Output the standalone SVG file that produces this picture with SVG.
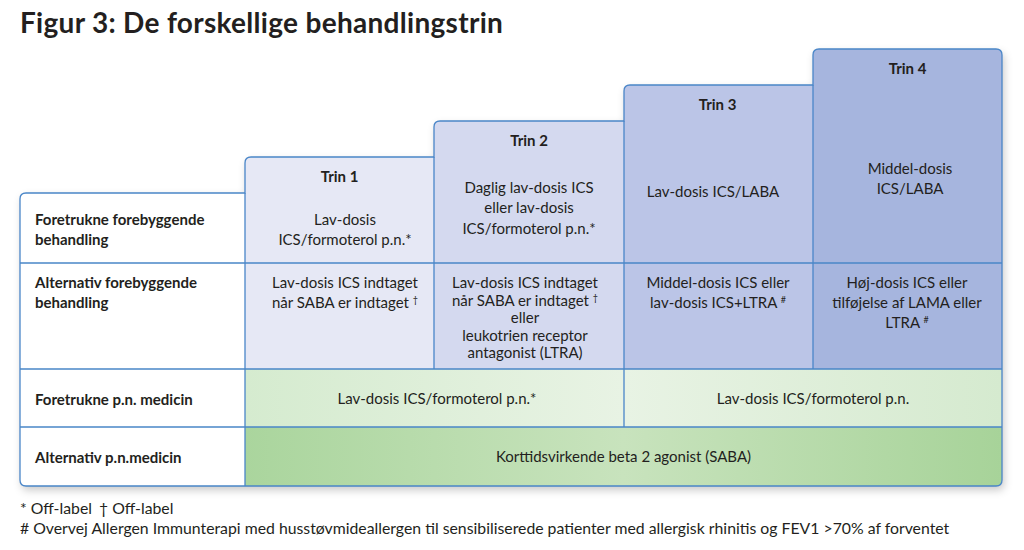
<svg xmlns="http://www.w3.org/2000/svg" width="1024" height="550" viewBox="0 0 1024 550">
<style>
  text { font-family: Lato, "Open Sans", "Liberation Sans", sans-serif; fill: #231f20; }
  .t { font-size: 15px; text-anchor: middle; }
  .h { font-size: 15px; font-weight: bold; text-anchor: middle; }
  .lbl { font-size: 15px; font-weight: bold; }
  .fn { font-size: 15.8px; }
  .sup { font-size: 9px; }
  .grid { stroke: #4a86c8; stroke-width: 1.3; fill: none; }
</style>
<defs>
  <linearGradient id="g3l" x1="0" y1="0" x2="1" y2="0">
    <stop offset="0" stop-color="#d5ebcf"/>
    <stop offset="1" stop-color="#e8f3e4"/>
  </linearGradient>
  <linearGradient id="g3r" x1="0" y1="0" x2="1" y2="0">
    <stop offset="0" stop-color="#e8f3e4"/>
    <stop offset="1" stop-color="#d5eacf"/>
  </linearGradient>
  <linearGradient id="g4" x1="0" y1="0" x2="1" y2="0">
    <stop offset="0" stop-color="#aad59d"/>
    <stop offset="0.5" stop-color="#c8e3bd"/>
    <stop offset="1" stop-color="#a7d399"/>
  </linearGradient>
  <filter id="shadow" x="-5%" y="-5%" width="110%" height="115%">
    <feDropShadow dx="2" dy="4" stdDeviation="4" flood-color="#000" flood-opacity="0.22"/>
  </filter>
</defs>

<rect width="1024" height="550" fill="#ffffff"/>

<g id="title">
  <text x="20" y="33" style="font-size:28px;font-weight:bold;letter-spacing:0.3px;">Figur 3: De forskellige behandlingstrin</text>
</g>

<!-- background with shadow -->
<path filter="url(#shadow)" fill="#ffffff" d="M20,199 Q20,193 26,193 L245,193 L245,163 Q245,157 251,157 L434,157 L434,127 Q434,121 440,121 L624,121 L624,91 Q624,85 630,85 L813,85 L813,55 Q813,49 819,49 L996,49 Q1002,49 1002,55 L1002,480 Q1002,486 996,486 L26,486 Q20,486 20,480 Z"/>

<g id="row-labels">
  <path fill="#ffffff" d="M20,199 Q20,193 26,193 L245,193 L245,486 L26,486 Q20,486 20,480 Z"/>
  <text class="lbl" x="35" y="225">Foretrukne forebyggende</text>
  <text class="lbl" x="35" y="245">behandling</text>
  <text class="lbl" x="35" y="288">Alternativ forebyggende</text>
  <text class="lbl" x="35" y="308">behandling</text>
  <text class="lbl" x="35" y="405">Foretrukne p.n. medicin</text>
  <text class="lbl" x="35" y="463">Alternativ p.n.medicin</text>
</g>

<g id="trin1">
  <path fill="#e6e8f5" d="M245,163 Q245,157 251,157 L434,157 L434,369 L245,369 Z"/>
  <text class="h" x="339.5" y="182">Trin 1</text>
  <text class="t" x="345" y="225">Lav-dosis</text>
  <text class="t" x="345" y="245">ICS/formoterol p.n.*</text>
  <text class="t" x="345" y="288">Lav-dosis ICS indtaget</text>
  <text class="t" x="345" y="308">når SABA er indtaget <tspan class="sup" dy="-5">†</tspan></text>
</g>

<g id="trin2">
  <path fill="#d4d9ef" d="M434,127 Q434,121 440,121 L624,121 L624,369 L434,369 Z"/>
  <text class="h" x="529" y="146">Trin 2</text>
  <text class="t" x="529" y="193">Daglig lav-dosis ICS</text>
  <text class="t" x="529" y="213">eller lav-dosis</text>
  <text class="t" x="529" y="234">ICS/formoterol p.n.*</text>
  <text class="t" x="525" y="288">Lav-dosis ICS indtaget</text>
  <text class="t" x="525" y="305.5">når SABA er indtaget <tspan class="sup" dy="-5">†</tspan></text>
  <text class="t" x="525" y="323">eller</text>
  <text class="t" x="525" y="340.5">leukotrien receptor</text>
  <text class="t" x="525" y="358">antagonist (LTRA)</text>
</g>

<g id="trin3">
  <path fill="#bbc5e7" d="M624,91 Q624,85 630,85 L813,85 L813,369 L624,369 Z"/>
  <text class="h" x="717.5" y="110">Trin 3</text>
  <text class="t" x="713" y="197">Lav-dosis ICS/LABA</text>
  <text class="t" x="718" y="288">Middel-dosis ICS eller</text>
  <text class="t" x="718" y="308">lav-dosis ICS+LTRA <tspan class="sup" dy="-5">#</tspan></text>
</g>

<g id="trin4">
  <path fill="#a6b5de" d="M813,55 Q813,49 819,49 L996,49 Q1002,49 1002,55 L1002,369 L813,369 Z"/>
  <text class="h" x="907.5" y="74">Trin 4</text>
  <text class="t" x="910" y="174">Middel-dosis</text>
  <text class="t" x="910" y="194">ICS/LABA</text>
  <text class="t" x="907" y="288">Høj-dosis ICS eller</text>
  <text class="t" x="907" y="308">tilføjelse af LAMA eller</text>
  <text class="t" x="907" y="328">LTRA <tspan class="sup" dy="-5">#</tspan></text>
</g>

<g id="pn-row">
  <rect x="245" y="369" width="379" height="58" fill="url(#g3l)"/>
  <rect x="624" y="369" width="378" height="58" fill="url(#g3r)"/>
  <text class="t" x="437" y="404">Lav-dosis ICS/formoterol p.n.*</text>
  <text class="t" x="813" y="404">Lav-dosis ICS/formoterol p.n.</text>
</g>

<g id="alt-pn-row">
  <path fill="url(#g4)" d="M245,427 L1002,427 L1002,480 Q1002,486 996,486 L245,486 Z"/>
  <text class="t" x="623.5" y="462">Korttidsvirkende beta 2 agonist (SABA)</text>
</g>

<g id="grid-lines" class="grid">
  <path d="M20,199 Q20,193 26,193 L245,193 L245,163 Q245,157 251,157 L434,157 L434,127 Q434,121 440,121 L624,121 L624,91 Q624,85 630,85 L813,85 L813,55 Q813,49 819,49 L996,49 Q1002,49 1002,55 L1002,480 Q1002,486 996,486 L26,486 Q20,486 20,480 Z"/>
  <path d="M245,193 L245,486 M434,157 L434,369 M624,121 L624,427 M813,85 L813,369"/>
  <path d="M20,263 L1002,263 M20,369 L1002,369 M20,427 L1002,427"/>
</g>

<g id="footnotes">
  <text class="fn" x="20" y="514">* Off-label<tspan x="99">† Off-label</tspan></text>
  <text class="fn" x="20" y="534"># Overvej Allergen Immunterapi med husstøvmideallergen til sensibiliserede patienter med allergisk rhinitis og FEV1 &gt;70% af forventet</text>
</g>
</svg>
